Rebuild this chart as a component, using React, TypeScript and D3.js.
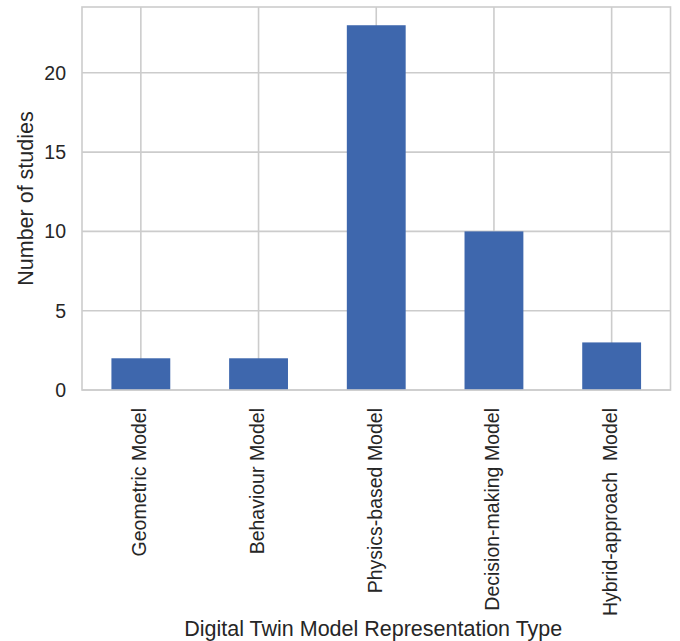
import React from "react";
import * as d3 from "d3";

const categories = ["Geometric Model", "Behaviour Model", "Physics-based Model", "Decision-making Model", "Hybrid-approach  Model"];
const counts = [2, 2, 23, 10, 3];
const yTicks = [0, 5, 10, 15, 20];

const W = 680, H = 641;
const M = { left: 82, right: 670.5, top: 7, bottom: 390 };
const FONT = "'Liberation Sans', Arial, sans-serif";

export default function App() {
  const x = d3.scaleBand<string>().domain(categories).range([M.left, M.right]).paddingInner(0.5).paddingOuter(0.25);
  const xc = d3.scalePoint<string>().domain(categories).range([M.left, M.right]).padding(0.5);
  const yMax = d3.max(counts)! * 1.05;
  const y = d3.scaleLinear().domain([0, yMax]).range([M.bottom, M.top]);
  return (
    <svg width={W} height={H} style={{ position: "absolute", left: 0, top: 0, background: "#fff" }}>
      <g>
        {yTicks.map((t) => (
          <line key={"gy" + t} x1={M.left} x2={M.right} y1={y(t)} y2={y(t)} stroke="#cccccc" strokeWidth={1.6} />
        ))}
        {categories.map((c) => (
          <line key={"gx" + c} x1={xc(c)} x2={xc(c)} y1={M.top} y2={M.bottom} stroke="#cccccc" strokeWidth={1.6} />
        ))}
        {categories.map((c, i) => (
          <rect key={"b" + c} x={xc(c)! - x.bandwidth() / 2} width={x.bandwidth()} y={y(counts[i])} height={y(0) - y(counts[i])} fill="#3e67ad" />
        ))}
        <rect x={M.left} y={M.top} width={M.right - M.left} height={M.bottom - M.top} fill="none" stroke="#cccccc" strokeWidth={1.6} />
        {yTicks.map((t) => (
          <text key={"ty" + t} x={66} y={y(t)} dy="0.35em" textAnchor="end" fontFamily={FONT} fontSize={19.5} fill="#262626">{t}</text>
        ))}
        {categories.map((c) => (
          <text key={"tx" + c} transform={`translate(${xc(c)! + 5.5},${M.bottom + 18}) rotate(-90)`} textAnchor="end" fontFamily={FONT} fontSize={19.5} fill="#262626" style={{ whiteSpace: "pre" }}>{c}</text>
        ))}
        <text transform={`translate(33,${(M.top + M.bottom) / 2}) rotate(-90)`} textAnchor="middle" fontFamily={FONT} fontSize={21.5} fill="#262626">Number of studies</text>
        <text x={(M.left + M.right) / 2 - 3} y={636} textAnchor="middle" fontFamily={FONT} fontSize={21.5} fill="#262626">Digital Twin Model Representation Type</text>
      </g>
    </svg>
  );
}
